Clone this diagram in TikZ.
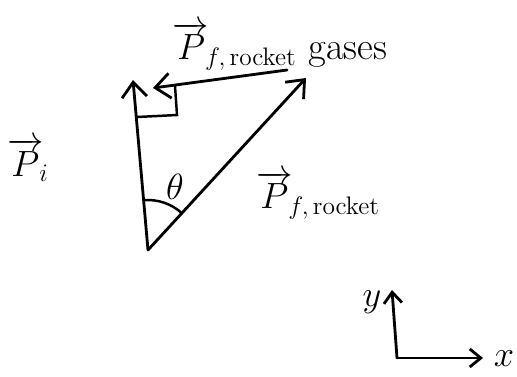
\documentclass[tikz,border=0pt]{standalone}
\usepackage{amsmath}
\usetikzlibrary{arrows.meta}
\begin{document}
\begin{tikzpicture}[line width=1.6pt, line cap=round,
    vecarrow/.style={-{Straight Barb[length=3mm,width=5mm]}},
    axisarrow/.style={-{Straight Barb[length=2.2mm,width=3.6mm]}},
    every node/.style={font=\fontsize{22}{26}\selectfont, inner sep=1pt}]
        \useasboundingbox (0,0) rectangle (10.34,7.52);
        \coordinate (O) at (2.96,2.52);
        \coordinate (I) at (2.66,5.92);
        \coordinate (F) at (6.12,5.96);
        \coordinate (G1) at (5.74,6.12);
        \coordinate (G2) at (3.06,5.76);
        \coordinate (S1) at (2.74,5.18);
        \coordinate (S2) at (3.54,5.22);
        \coordinate (S3) at (3.50,5.80);
        \draw[vecarrow] (O)--(I);
        \draw[vecarrow] (O)--(F);
        \draw[vecarrow] (G1)--(G2);
        \draw[line width=1.4pt] (S1)--(S2)--(S3);
        \draw[line width=1.4pt] ([shift={(95:1)}]O) arc (95:47:1);
        \node (theta) at (3.50,3.78) {$\theta$};
        \node (Pi) at (0.56,4.32) {$\overrightarrow{P}_{\!i}$};
        \node (Pgas) at (5.6,6.6) {$\overrightarrow{P}_{\!f,\,\mathrm{rocket}}$ gases};
        \node (Procket) at (6.36,3.62) {$\overrightarrow{P}_{\!f,\,\mathrm{rocket}}$};
        % axes
        \coordinate (C) at (7.94,0.36);
        \coordinate (Y) at (7.84,1.72);
        \coordinate (X) at (9.66,0.36);
        \draw[axisarrow] (C)--(Y);
        \draw[axisarrow] (C)--(X);
        \node (ylab) at (7.44,1.48) {$y$};
        \node (xlab) at (10.08,0.34) {$x$};
    \end{tikzpicture}
\end{document}
